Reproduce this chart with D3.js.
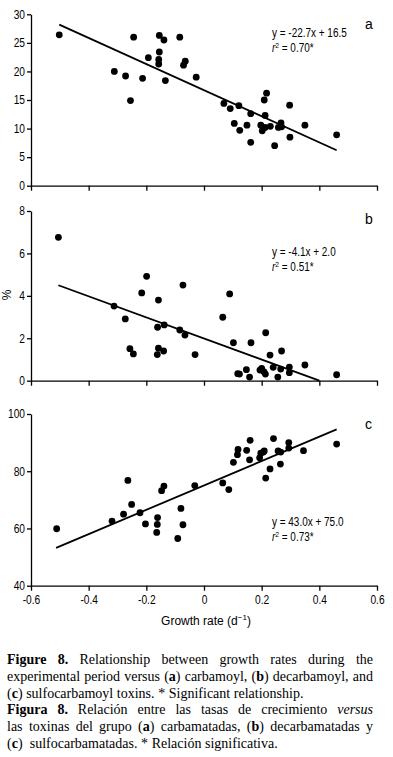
<!DOCTYPE html>
<html>
<head>
<meta charset="utf-8">
<script src="https://cdn.jsdelivr.net/npm/d3@7"></script>
<style>
  body { margin: 0; background: #fff; }
  .tick text, .lab { font-family: "Liberation Sans Narrow", "Arial Narrow", "Liberation Sans", sans-serif; }
  .cap { font-family: "Liberation Serif", "Times New Roman", serif; font-size: 14px; }
</style>
</head>
<body>
<div id="chart"></div>
<script>
// growth rate (d-1) vs toxin fraction (%)
const xA = [-0.502, -0.311, -0.272, -0.255, -0.244, -0.213, -0.193, -0.155, -0.155, -0.157, -0.157, -0.139, -0.134, -0.084, -0.071, -0.065, -0.027,
  0.069, 0.091, 0.121, 0.105, 0.124, 0.149, 0.162, 0.162, 0.197, 0.202, 0.209, 0.212, 0.217, 0.212, 0.230, 0.245, 0.258, 0.267, 0.269, 0.297, 0.298, 0.350, 0.460];
const yA = [26.4, 20.0, 19.2, 14.9, 26.0, 18.8, 22.4, 26.3, 23.4, 22.1, 21.3, 25.5, 18.4, 26.0, 21.1, 21.8, 19.0,
  14.4, 13.5, 14.0, 10.9, 9.7, 10.6, 12.6, 7.6, 10.6, 9.6, 15.0, 12.3, 16.2, 10.2, 10.4, 7.0, 10.2, 11.0, 10.3, 14.1, 8.5, 10.6, 8.9];

const xB = [-0.505, -0.312, -0.273, -0.257, -0.245, -0.216, -0.199, -0.158, -0.161, -0.158, -0.162, -0.140, -0.138, -0.084, -0.073, -0.066, -0.031,
  0.065, 0.089, 0.102, 0.117, 0.123, 0.147, 0.158, 0.163, 0.194, 0.200, 0.208, 0.213, 0.214, 0.229, 0.240, 0.256, 0.266, 0.269, 0.296, 0.296, 0.350, 0.460];
const yB = [6.76, 3.52, 2.91, 1.51, 1.26, 4.14, 4.92, 3.80, 2.52, 1.53, 1.23, 1.40, 2.63, 2.39, 4.51, 2.15, 1.23,
  2.99, 4.09, 1.79, 0.33, 0.31, 0.52, 0.17, 1.79, 0.50, 0.58, 0.42, 0.31, 2.26, 1.21, 0.63, 0.17, 0.55, 1.40, 0.64, 0.38, 0.74, 0.28];

const xC = [-0.511, -0.319, -0.279, -0.264, -0.251, -0.222, -0.203, -0.161, -0.162, -0.164, -0.147, -0.139, -0.080, -0.073, -0.091, -0.032,
  0.065, 0.086, 0.102, 0.116, 0.118, 0.148, 0.158, 0.160, 0.193, 0.197, 0.206, 0.209, 0.214, 0.229, 0.241, 0.257, 0.266, 0.265, 0.294, 0.294, 0.345, 0.460];
const yC = [59.9, 62.6, 65.0, 76.8, 68.4, 65.5, 61.6, 63.8, 61.4, 58.6, 73.2, 74.8, 67.0, 61.3, 56.5, 75.0,
  75.9, 73.6, 83.1, 85.8, 87.6, 87.3, 84.0, 90.8, 84.7, 86.3, 86.7, 87.1, 77.6, 80.8, 91.4, 87.1, 86.7, 82.5, 90.0, 88.1, 87.2, 89.5];

// regression lines as drawn (end points)
const fitXA = [-0.502, 0.460], fitYA = [28.2, 6.2];
const fitXB = [-0.505, 0.400], fitYB = [4.5, 0.0];
const fitXC = [-0.513, 0.460], fitYC = [53.2, 94.6];

const eqA = ["y = -22.7x + 16.5", "0.70*"];
const eqB = ["y = -4.1x + 2.0", "0.51*"];
const eqC = ["y = 43.0x + 75.0", "0.73*"];

const xTicks = [-0.6, -0.4, -0.2, 0, 0.2, 0.4, 0.6];
const yTicksA = [0, 5, 10, 15, 20, 25, 30];
const yTicksB = [0, 2, 4, 6, 8];
const yTicksC = [40, 60, 80, 100];

const W = 393, H = 757;
const svg = d3.select("#chart").append("svg")
  .attr("width", W).attr("height", H)
  .style("display", "block")
  .style("background", "#fff");

// the original uses a condensed face, squeeze the regular one
function narrow(sel, f) {
  sel.each(function() {
    const w = this.getComputedTextLength();
    d3.select(this).attr("textLength", w * f).attr("lengthAdjust", "spacingAndGlyphs");
  });
}

const x = d3.scaleLinear().domain([-0.6, 0.6]).range([31, 377]);

const panels = [
  {xs: xA, ys: yA, fx: fitXA, fy: fitYA, eq: eqA, ticks: yTicksA, dom: [0, 30], range: [185.7, 14.3], eqY: 37, letter: "a", letY: 29, showX: false},
  {xs: xB, ys: yB, fx: fitXB, fy: fitYB, eq: eqB, ticks: yTicksB, dom: [0, 8], range: [380.7, 211], eqY: 256, letter: "b", letY: 224, showX: false},
  {xs: xC, ys: yC, fx: fitXC, fy: fitYC, eq: eqC, ticks: yTicksC, dom: [40, 100], range: [585.7, 414], eqY: 526, letter: "c", letY: 429, showX: true}
];

panels.forEach(p => {
  const y = d3.scaleLinear().domain(p.dom).range(p.range);
  const g = svg.append("g");

  const xAxis = g.append("g")
    .attr("transform", `translate(0,${p.range[0]})`)
    .call(d3.axisBottom(x).tickValues(xTicks).tickSize(5).tickSizeOuter(0)
      .tickFormat(d => p.showX ? String(d) : ""));
  xAxis.selectAll("text").style("font-size", "12px").attr("dy", "0.9em");

  const yAxis = g.append("g")
    .attr("transform", "translate(31,0)")
    .call(d3.axisLeft(y).tickValues(p.ticks).tickSize(4).tickPadding(2).tickSizeOuter(0));
  yAxis.selectAll("text").style("font-size", "12px");

  g.selectAll(".domain, .tick line").attr("stroke", "#000").attr("stroke-width", 1.3);
  g.selectAll(".tick text").attr("fill", "#000");
  narrow(g.selectAll(".tick text").filter(function() { return this.textContent !== ""; }), 0.85);

  g.append("line")
    .attr("x1", x(p.fx[0])).attr("y1", y(p.fy[0]))
    .attr("x2", x(p.fx[1])).attr("y2", y(p.fy[1]))
    .attr("stroke", "#000").attr("stroke-width", 1.8);

  g.selectAll("circle")
    .data(p.xs.map((v, i) => [v, p.ys[i]]))
    .enter().append("circle")
    .attr("cx", d => x(d[0]))
    .attr("cy", d => y(d[1]))
    .attr("r", 3.4)
    .attr("fill", "#000");

  const eq = g.append("text").attr("class", "lab")
    .attr("x", 272).attr("y", p.eqY)
    .style("font-size", "12px")
    .text(p.eq[0]);
  narrow(eq, 0.83);

  const r2 = g.append("text").attr("class", "lab")
    .attr("x", 272).attr("y", p.eqY + 14.5)
    .style("font-size", "12px");
  r2.append("tspan").style("font-style", "italic").text("r");
  r2.append("tspan").attr("dy", -4).style("font-size", "8px").text("2");
  r2.append("tspan").attr("dy", 4).text(" = " + p.eq[1]);
  narrow(r2, 0.83);

  g.append("text")
    .attr("x", 365).attr("y", p.letY)
    .style("font-family", "'Liberation Sans', Arial, sans-serif")
    .style("font-size", "14px")
    .text(p.letter);
});

// y label and x label
svg.append("text").attr("class", "lab")
  .attr("transform", "translate(11,295) rotate(-90)")
  .attr("text-anchor", "middle")
  .style("font-size", "12px")
  .text("%");

const xl = svg.append("text").attr("class", "lab")
  .attr("x", 206).attr("y", 625)
  .attr("text-anchor", "middle")
  .style("font-size", "12px");
xl.append("tspan").text("Growth rate (d");
xl.append("tspan").attr("dy", -5).style("font-size", "8px").text("\u22121");
xl.append("tspan").attr("dy", 5).text(")");

// caption, justified by hand
const capLines = [
  {t: "**Figure** **8.** Relationship between growth rates during the", j: true},
  {t: "experimental period versus (**a**) carbamoyl, (**b**) decarbamoyl, and", j: true},
  {t: "(**c**) sulfocarbamoyl toxins. * Significant relationship.", j: false},
  {t: "**Figura** **8.** Relación entre las tasas de crecimiento _versus_", j: true},
  {t: "las toxinas del grupo (**a**) carbamatadas, (**b**) decarbamatadas y", j: true},
  {t: "(**c**)  sulfocarbamatadas. * Relación significativa.", j: false}
];
const capY = [664, 681, 697.5, 714, 731, 748];
const capL = 7, capR = 373;

capLines.forEach((ln, i) => {
  const words = ln.t.split(" ");
  const nodes = [];
  words.forEach(w => {
    if (!w.length) { nodes.push(null); return; }   // keep the double space
    const t = svg.append("text").attr("class", "cap").attr("y", capY[i]);
    w.split(/(\*\*[^*]+\*\*|_[^_]+_)/).filter(s => s.length).forEach(s => {
      const ts = t.append("tspan");
      if (s.startsWith("**")) ts.style("font-weight", "bold").text(s.slice(2, -2));
      else if (s.startsWith("_")) ts.style("font-style", "italic").text(s.slice(1, -1));
      else ts.text(s);
    });
    nodes.push(t);
  });
  const real = nodes.filter(n => n);
  const widths = real.map(n => n.node().getComputedTextLength());
  const total = d3.sum(widths);
  const gap = ln.j ? (capR - capL - total) / (real.length - 1) : 3.6;
  let cx = capL;
  nodes.forEach(n => {
    if (!n) { cx += gap; return; }
    n.attr("x", cx);
    cx += n.node().getComputedTextLength() + gap;
  });
});
</script>
</body>
</html>
